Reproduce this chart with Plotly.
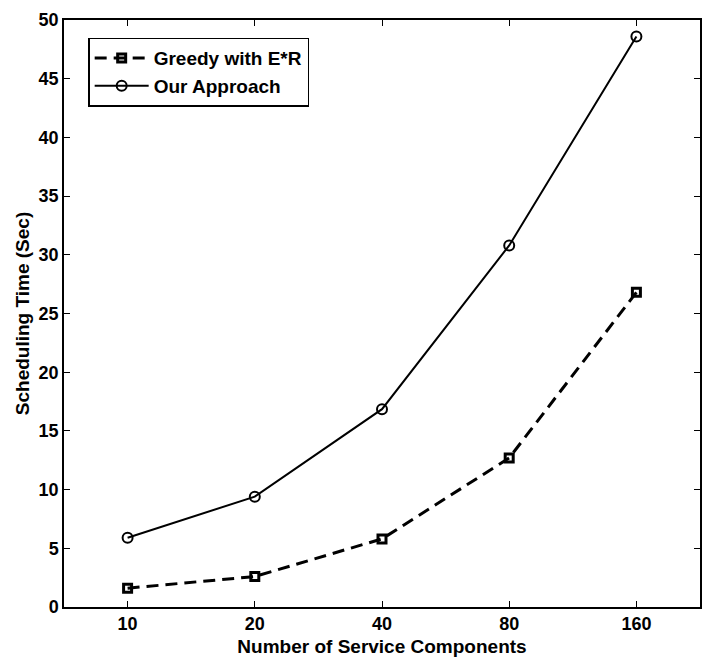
import plotly.graph_objects as go

components = ["10", "20", "40", "80", "160"]
greedy_er = [1.6, 2.6, 5.8, 12.7, 26.8]
our_approach = [5.9, 9.4, 16.85, 30.8, 48.6]
y_ticks = [0, 5, 10, 15, 20, 25, 30, 35, 40, 45, 50]

FONT = "Liberation Sans, Arial, Helvetica, sans-serif"
xpos = list(range(1, len(components) + 1))

fig = go.Figure()
fig.add_trace(go.Scatter(
    x=xpos, y=greedy_er, name="Greedy with E*R", mode="lines+markers",
    line=dict(color="black", width=3, dash="12px,7px"),
    marker=dict(symbol="square-open", size=8, color="black",
                line=dict(color="black", width=3)),
))
fig.add_trace(go.Scatter(
    x=xpos, y=our_approach, name="Our Approach", mode="lines+markers",
    line=dict(color="black", width=2),
    marker=dict(symbol="circle-open", size=10, color="black",
                line=dict(color="black", width=2)),
))

axis_common = dict(
    showline=True, linecolor="black", linewidth=1.5, mirror="ticks",
    ticks="inside", ticklen=6, tickcolor="black", tickwidth=1,
    showgrid=False, zeroline=False,
    tickfont=dict(family=FONT, size=18, color="black", weight="bold"),
)

fig.update_xaxes(
    **axis_common,
    range=[0.5, 5.5], tickmode="array", tickvals=xpos, ticktext=components,
    title=dict(text="Number of Service Components", standoff=6,
               font=dict(family=FONT, size=19, color="black", weight="bold")),
)
fig.update_yaxes(
    **axis_common,
    range=[0, 50], tickmode="array", tickvals=y_ticks,
    title=dict(text="Scheduling Time (Sec)", standoff=4,
               font=dict(family=FONT, size=19, color="black", weight="bold")),
)

fig.update_layout(
    width=703, height=657,
    margin=dict(l=64, r=1, t=20, b=50),
    paper_bgcolor="white", plot_bgcolor="white",
    showlegend=True,
    legend=dict(
        x=0.038, y=0.97, xanchor="left", yanchor="top",
        bgcolor="white", bordercolor="black", borderwidth=1.5,
        font=dict(family=FONT, size=19, color="black", weight="bold"),
        tracegroupgap=0, itemwidth=54,
    ),
)

fig.write_html("out.html")
